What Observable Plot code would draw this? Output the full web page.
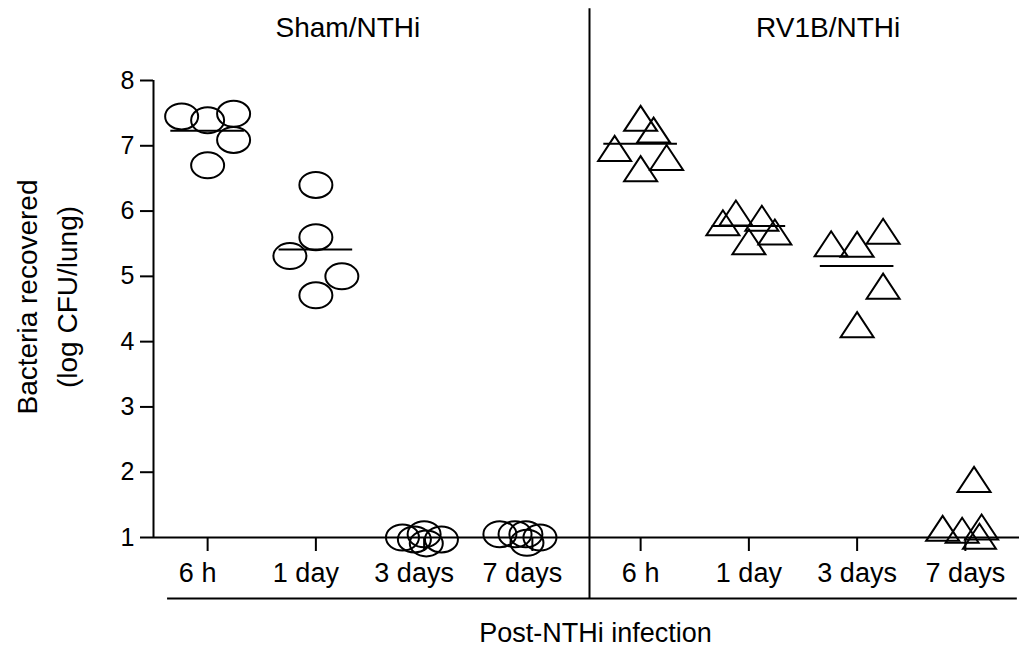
<!DOCTYPE html>
<html><head><meta charset="utf-8">
<script src="https://cdn.jsdelivr.net/npm/d3@7"></script>
<script src="https://cdn.jsdelivr.net/npm/@observablehq/plot@0.6"></script>
<style>body{margin:0;background:#fff}</style>
</head><body><div id="chart"></div>
<script>
// ---- data ----
const categories = ["6 h", "1 day", "3 days", "7 days"];
const groups = ["Sham/NTHi", "RV1B/NTHi"];
const yTicks = [1, 2, 3, 4, 5, 6, 7, 8];

const shamValues = [
  [7.45, 7.39, 7.49, 7.09, 6.70],
  [6.40, 5.60, 5.31, 5.00, 4.71],
  [1.00, 0.97, 1.05, 0.91, 0.97],
  [1.05, 1.05, 1.05, 0.92, 1.00]
];
const shamSpread = [
  [-0.24, 0, 0.24, 0.24, 0],
  [0, 0, -0.24, 0.24, 0],
  [-0.20, -0.09, 0, 0.02, 0.16],
  [-0.30, -0.16, -0.06, -0.05, 0.07]
];
const shamMeans = [7.23, 5.41, null, null];

const rvValues = [
  [7.42, 7.24, 6.96, 6.82, 6.65],
  [5.82, 5.97, 5.89, 5.68, 5.53],
  [5.50, 5.49, 5.69, 4.85, 4.26],
  [1.89, 1.14, 1.11, 1.16, 1.02]
];
const rvSpread = [
  [0, 0.12, -0.24, 0.24, 0],
  [-0.24, -0.12, 0.12, 0.24, 0],
  [-0.24, 0, 0.24, 0.24, 0],
  [0.08, -0.21, -0.03, 0.15, 0.13]
];
const rvMeans = [7.03, 5.77, 5.16, null];

const yLabel = "Bacteria recovered\n(log CFU/lung)";
const xLabel = "Post-NTHi infection";

// ---- tables ----
const nCat = categories.length;
function pointsOf(values, spread, gi) {
  const out = [];
  values.forEach((vals, ci) => vals.forEach((v, k) => out.push({
    group: groups[gi], cat: categories[ci], x: gi * nCat + ci + spread[ci][k], value: v
  })));
  return out;
}
function meansOf(means, gi) {
  return means.map((m, ci) => ({pos: gi * nCat + ci, mean: m})).filter(d => d.mean != null);
}
const shamPts = pointsOf(shamValues, shamSpread, 0);
const rvPts = pointsOf(rvValues, rvSpread, 1);
const meanRows = meansOf(shamMeans, 0).concat(meansOf(rvMeans, 1));
const tickRows = groups.flatMap((g, gi) => categories.map((c, ci) => ({group: g, pos: gi * nCat + ci, label: c})));

// custom open symbols
const K = 0.5523;
const ellipse = {draw(ctx) {
  const rx = 16.5, ry = 13;
  ctx.moveTo(rx, 0);
  ctx.bezierCurveTo(rx, K * ry, K * rx, ry, 0, ry);
  ctx.bezierCurveTo(-K * rx, ry, -rx, K * ry, -rx, 0);
  ctx.bezierCurveTo(-rx, -K * ry, -K * rx, -ry, 0, -ry);
  ctx.bezierCurveTo(K * rx, -ry, rx, -K * ry, rx, 0);
  ctx.closePath();
}};
const triangle = {draw(ctx) {
  const hw = 16.5, hh = 12.5;
  ctx.moveTo(0, -hh);
  ctx.lineTo(hw, hh);
  ctx.lineTo(-hw, hh);
  ctx.closePath();
}};

const font = "'Liberation Sans', Arial, Helvetica, sans-serif";
const nAll = groups.length * nCat;

const plot = Plot.plot({
  width: 1019,
  height: 649,
  marginLeft: 153,
  marginRight: 0,
  marginTop: 80,
  marginBottom: 112,
  style: {fontFamily: font, fontSize: "27px", color: "black", background: "white", overflow: "visible"},
  x: {domain: [-0.5, nAll - 0.5], axis: null},
  y: {domain: [yTicks[0], yTicks[yTicks.length - 1]], axis: null},
  marks: [
    // y axis
    Plot.axisY({ticks: yTicks, tickFormat: d3.format("d"), tickSize: 13, tickPadding: 6, fontSize: 25, strokeWidth: 2, label: null}),
    Plot.ruleX([-0.5], {y1: yTicks[0], y2: yTicks[yTicks.length - 1], strokeWidth: 2}),
    // x axis baseline and ticks
    Plot.ruleY([yTicks[0]], {strokeWidth: 2}),
    Plot.axisX({ticks: tickRows.map(d => d.pos), tickSize: 14, tickFormat: () => "", strokeWidth: 2, label: null}),
    Plot.text(tickRows.filter(d => d.group === groups[0]), {x: "pos", text: "label", frameAnchor: "bottom", lineAnchor: "middle", dy: 36, dx: -10, fontSize: 27}),
    Plot.text(tickRows.filter(d => d.group === groups[1]), {x: "pos", text: "label", frameAnchor: "bottom", lineAnchor: "middle", dy: 36, fontSize: 27}),
    // divider and bracket
    Plot.ruleX([nCat - 0.5], {y1: 0.066, y2: 9.1, strokeWidth: 2, dx: 3}),
    Plot.ruleY([0.066], {x1: -0.37, x2: nAll - 0.52, strokeWidth: 2}),
    // group titles
    Plot.text([groups[0]], {x: [1], text: d => d, frameAnchor: "top", lineAnchor: "middle", dy: -52, dx: 32, fontSize: 28}),
    Plot.text([groups[1]], {x: [6], text: d => d, frameAnchor: "top", lineAnchor: "middle", dy: -52, dx: -29, fontSize: 28}),
    // axis titles
    Plot.text([yLabel], {text: d => d, frameAnchor: "left", textAnchor: "middle", lineAnchor: "middle", rotate: -90, dx: -109, dy: -12, fontSize: 28, lineHeight: 1.4}),
    Plot.text([xLabel], {text: d => d, frameAnchor: "bottom", lineAnchor: "middle", dy: 96, dx: 9, fontSize: 27}),
    // means
    Plot.ruleY(meanRows, {y: "mean", x1: d => d.pos - 0.34, x2: d => d.pos + 0.34, strokeWidth: 2}),
    // data
    Plot.dot(shamPts, {x: "x", y: "value", symbol: ellipse, r: 10, fill: "none", stroke: "black", strokeWidth: 2}),
    Plot.dot(rvPts, {x: "x", y: "value", symbol: triangle, r: 10, fill: "none", stroke: "black", strokeWidth: 2})
  ]
});
document.getElementById("chart").appendChild(plot);
</script>
</body></html>
